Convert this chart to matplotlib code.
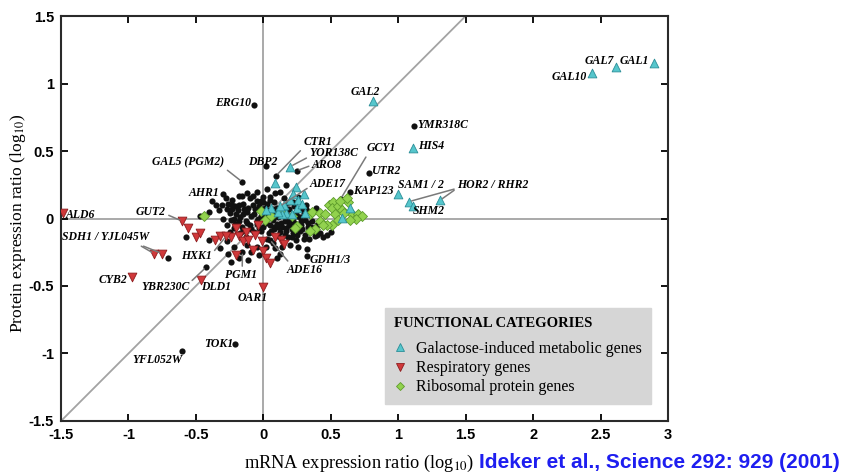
import matplotlib
matplotlib.use("Agg")
from matplotlib import pyplot as plt
from matplotlib.lines import Line2D

plt.rcParams['mathtext.fontset'] = 'stix'
plt.rcParams['axes.unicode_minus'] = False

# ---- data (log10 ratios) ----
# galactose-induced metabolic genes, unlabelled
gal_x = [0.24, 0.30, 0.26, 0.20, 0.085, 0.06, 0.02, 0.17, 0.135, 0.21, 0.25,
         0.22, 0.58, 0.64, 0.29, 0.15, 0.31, 0.11]
gal_y = [0.23, 0.18, 0.14, 0.14, 0.265, 0.075, 0.065, 0.04, 0.03, 0.03, 0.08,
         0.18, 0.005, 0.08, 0.11, 0.10, 0.04, 0.05]

# respiratory genes, unlabelled
resp_x = [-0.56, -0.50, -0.47, -0.36, -0.20, -0.18, -0.15, -0.11, -0.08, -0.01,
          0.00, 0.02, 0.05, -0.20, 0.13, 0.15, -0.13, -0.06, 0.09, -0.24, -0.32, -0.04]
resp_y = [-0.07, -0.14, -0.11, -0.16, -0.07, -0.13, -0.17, -0.16, -0.23, -0.17,
          -0.24, -0.29, -0.33, -0.27, -0.16, -0.19, -0.10, -0.12, -0.14, -0.14, -0.13, -0.05]

# ribosomal protein genes
ribo_x = [-0.44, -0.015, 0.01, 0.06, 0.21, 0.25, 0.345, 0.36, 0.42, 0.49, 0.52, 0.51,
          0.55, 0.58, 0.46, 0.53, 0.63, 0.65, 0.70, 0.73, 0.69, 0.42, 0.51, 0.55, 0.64,
          0.38, 0.345, 0.47, 0.44, 0.60, 0.57, 0.62, 0.13, 0.235]
ribo_y = [0.02, 0.055, -0.01, 0.02, 0.02, -0.055, 0.03, 0.05, 0.04, 0.10, 0.12, 0.08,
          0.09, 0.06, 0.03, 0.03, 0.12, 0.04, 0.03, 0.015, 0.00, -0.02, -0.045, -0.01, -0.01,
          -0.08, -0.095, -0.045, -0.05, 0.04, 0.13, 0.15, 0.05, -0.07]

# other genes, unlabelled
other_x = [-0.57, -0.32, -0.31, -0.18, -0.24, -0.18, -0.11, 0.10, 0.44, 0.40, -0.47, -0.38,
           -0.23, -0.16, -0.23, 0.42, 0.47, 0.17, 0.50, 0.38, -0.71,
           -0.05, 0.03, 0.12, -0.12,
           -0.28, -0.10, 0.00, 0.05, 0.15, 0.26, -0.02,
           -0.35, -0.26, -0.21, -0.15, -0.08, -0.03, 0.03, 0.08, 0.16, 0.22, 0.32, 0.10,
           -0.40, -0.33, -0.25, -0.19, -0.12, -0.06, 0.00, 0.04, 0.09, 0.14, 0.19, 0.24, 0.29, 0.34, 0.39,
           -0.30, -0.24, -0.17, -0.13, -0.09, -0.04, 0.03, 0.07, 0.11, 0.16, 0.20, 0.27, 0.31, 0.36, -0.20,
           -0.27, -0.21, -0.16, -0.10, -0.05, 0.00, 0.05, 0.10, 0.14, 0.19, 0.23, 0.28, 0.33, 0.40,
           -0.25, -0.15, -0.07, -0.02, 0.04, 0.08, 0.12, 0.17, 0.22, 0.27, 0.31, 0.36,
           -0.40, -0.27, -0.13, 0.03, 0.07, 0.18, 0.24, 0.30,
           -0.22, -0.12, -0.05, 0.09, 0.20, 0.26,
           -0.26, 0.12, -0.03,
           -0.07, -0.01, 0.06, 0.12, 0.17, 0.22, 0.25, 0.13, 0.08, 0.02, -0.03, 0.17, 0.21,
           0.26, 0.30, 0.33, -0.11, -0.15, -0.18, -0.22,
           -0.02, 0.01, 0.07, 0.11, 0.15, 0.19, 0.24, 0.28, 0.32, 0.35, -0.05, -0.09,
           -0.14, -0.18, -0.23, -0.27, -0.22, -0.17, 0.06, 0.11, 0.16, 0.21, 0.25, 0.29,
           0.05, -0.08, 0.09, 0.19, 0.23, -0.12, 0.00, -0.05, 0.34, 0.14, -0.09, 0.02]
other_y = [-0.14, -0.22, 0.10, 0.17, -0.32, -0.29, -0.31, -0.29, -0.14, -0.12, 0.02, 0.13,
           0.14, 0.165, 0.07, -0.11, -0.12, 0.245, -0.10, -0.13, -0.29,
           0.20, 0.22, 0.20, 0.19,
           0.15, 0.15, 0.16, 0.14, 0.15, 0.16, 0.13,
           0.10, 0.11, 0.09, 0.11, 0.10, 0.09, 0.11, 0.12, 0.10, 0.12, 0.10, 0.08,
           0.05, 0.06, 0.04, 0.06, 0.05, 0.07, 0.04, 0.06, 0.05, 0.06, 0.07, 0.05, 0.06, 0.05, 0.08,
           0.00, -0.01, 0.01, -0.02, 0.02, 0.00, 0.01, -0.01, 0.01, -0.02, 0.00, 0.01, -0.01, -0.02, 0.03,
           -0.05, -0.04, -0.06, -0.05, -0.04, -0.06, -0.05, -0.04, -0.06, -0.05, -0.03, -0.05, -0.06, -0.05,
           -0.10, -0.09, -0.10, -0.09, -0.11, -0.08, -0.10, -0.09, -0.11, -0.09, -0.12, -0.09,
           -0.16, -0.17, -0.14, -0.15, -0.18, -0.14, -0.16, -0.15,
           -0.21, -0.20, -0.21, -0.22, -0.20, -0.21,
           -0.26, -0.26, -0.27,
           0.03, 0.06, 0.03, 0.03, 0.04, -0.02, 0.02, -0.03, -0.06, -0.03, -0.07, -0.07, -0.08,
           -0.07, 0.03, -0.03, 0.08, 0.03, -0.02, 0.00,
           0.02, 0.08, 0.07, -0.06, 0.02, -0.03, -0.08, -0.02, 0.07, -0.06, -0.02, -0.08,
           0.07, 0.10, 0.10, 0.07, -0.07, -0.11, -0.09, -0.13, -0.12, -0.14, -0.12, -0.08,
           0.16, 0.17, 0.19, 0.12, 0.09, -0.03, 0.12, 0.13, -0.15, -0.21, -0.25, -0.21]

# named genes
named_gene = ['GAL1', 'GAL7', 'GAL10', 'GAL2', 'ERG10', 'YMR318C', 'HIS4', 'UTR2',
              'GCY1', 'KAP123', 'SAM1', 'HOR2', 'RHR2', 'SHM2', 'CTR1', 'YOR138C',
              'ARO8', 'DBP2', 'ADE17', 'GAL5', 'AHR1', 'ALD6', 'GUT2', 'SDH1',
              'YJL045W', 'HXK1', 'CYB2', 'YBR230C', 'DLD1', 'PGM1', 'OAR1', 'ADE16',
              'GDH1', 'GDH3', 'TOK1', 'YFL052W']
named_cat = ['gal', 'gal', 'gal', 'gal', 'other', 'other', 'gal', 'other',
             'other', 'other', 'gal', 'gal', 'gal', 'gal', 'other', 'gal',
             'other', 'other', 'gal', 'other', 'other', 'resp', 'resp', 'resp',
             'resp', 'resp', 'resp', 'other', 'resp', 'other', 'resp', 'other',
             'other', 'other', 'other', 'other']
named_x = [2.895, 2.612, 2.436, 0.815, -0.07, 1.12, 1.11, 0.78,
           0.575, 0.64, 1.002, 1.31, 1.08, 1.11, 0.093, 0.20,
           0.246, 0.023, 0.12, -0.155, -0.30, -1.485, -0.60, -0.81,
           -0.75, -0.275, -0.975, -0.423, -0.46, -0.155, -0.005, 0.048,
           0.325, 0.325, -0.21, -0.60]
named_y = [1.15, 1.125, 1.08, 0.87, 0.84, 0.685, 0.52, 0.335,
           0.148, 0.20, 0.184, 0.135, 0.125, 0.095, 0.316, 0.385,
           0.353, 0.39, 0.09, 0.27, 0.18, 0.04, -0.02, -0.26,
           -0.26, -0.13, -0.43, -0.36, -0.455, -0.245, -0.51, -0.157,
           -0.225, -0.275, -0.93, -0.98]

x_ticks = [-1.5, -1, -0.5, 0, 0.5, 1, 1.5, 2, 2.5, 3]
x_tick_labels = ['-1.5', '-1', '-0.5', '0', '0.5', '1', '1.5', '2', '2.5', '3']
y_ticks = [-1.5, -1, -0.5, 0, 0.5, 1, 1.5]
y_tick_labels = ['-1.5', '-1', '-0.5', '0', '0.5', '1', '1.5']

# label layout: text, x, y, ha, genes joined by a leader line, leader start on text
labels = [
    ('GAL1', 2.86, 1.17, 'right', [], None),
    ('GAL7', 2.60, 1.17, 'right', [], None),
    ('GAL10', 2.40, 1.05, 'right', [], None),
    ('GAL2', 0.755, 0.94, 'center', [], None),
    ('ERG10', -0.09, 0.855, 'right', [], None),
    ('YMR318C', 1.14, 0.69, 'left', [], None),
    ('HIS4', 1.15, 0.54, 'left', [], None),
    ('UTR2', 0.80, 0.353, 'left', [], None),
    ('GCY1', 0.762, 0.52, 'left', ['GCY1'], (0.05, 0.0)),
    ('KAP123', 0.663, 0.204, 'left', [], None),
    ('SAM1 / 2', 1.00, 0.246, 'left', [], None),
    ('HOR2 / RHR2', 1.435, 0.25, 'left', ['HOR2', 'RHR2'], (0.0, 0.2)),
    ('SHM2', 1.11, 0.055, 'left', [], None),
    ('CTR1', 0.295, 0.567, 'left', ['CTR1'], (0.0, 0.0)),
    ('YOR138C', 0.34, 0.485, 'left', ['YOR138C'], (0.0, 0.2)),
    ('ARO8', 0.358, 0.395, 'left', ['ARO8'], (0.0, 0.5)),
    ('DBP2', -0.114, 0.42, 'left', [], None),
    ('ADE17', 0.345, 0.254, 'left', ['ADE17'], (0.0, 0.3)),
    ('GAL5 (PGM2)', -0.287, 0.418, 'right', ['GAL5'], (1.0, 0.0)),
    ('AHR1', -0.325, 0.187, 'right', [], None),
    ('ALD6', -1.465, 0.024, 'left', [], None),
    ('GUT2', -0.944, 0.05, 'left', ['GUT2'], (1.0, 0.3)),
    ('SDH1 / YJL045W', -1.49, -0.14, 'left', ['SDH1', 'YJL045W'], (0.85, 0.0)),
    ('HXK1', -0.61, -0.28, 'left', ['HXK1'], (1.0, 0.7)),
    ('CYB2', -1.007, -0.455, 'right', [], None),
    ('YBR230C', -0.907, -0.505, 'left', ['YBR230C'], (1.0, 0.8)),
    ('DLD1', -0.46, -0.51, 'left', [], None),
    ('PGM1', -0.287, -0.418, 'left', ['PGM1'], (0.55, 1.0)),
    ('OAR1', -0.188, -0.59, 'left', [], None),
    ('ADE16', 0.172, -0.38, 'left', ['ADE16'], (0.1, 1.0)),
    ('GDH1/3', 0.345, -0.306, 'left', [], None),
    ('TOK1', -0.225, -0.933, 'right', [], None),
    ('YFL052W', -0.97, -1.05, 'left', [], None),
]

gal_color, gal_edge = '#56c6cc', '#2b8e98'
resp_color, resp_edge = '#d0383a', '#8e1d1f'
ribo_color, ribo_edge = '#92d24e', '#5e9c2c'
ref_grey = '#a3a3a3'

fig = plt.figure(figsize=(8.45, 4.75), dpi=100)
ax = fig.add_axes([0.0722, 0.1137, 0.7183, 0.8526])

ax.axhline(0, color=ref_grey, lw=1.3, zorder=1)
ax.axvline(0, color=ref_grey, lw=1.3, zorder=1)
ax.axline((0, 0), slope=1, color=ref_grey, lw=1.3, zorder=1)


def pick(cat):
    xs = [x for x, c in zip(named_x, named_cat) if c == cat]
    ys = [y for y, c in zip(named_y, named_cat) if c == cat]
    return xs, ys


nx, ny = pick('other')
ax.scatter(other_x + nx, other_y + ny, s=20, c='#111111', linewidths=0, zorder=3)
ax.scatter(ribo_x, ribo_y, s=26, marker='D', c=ribo_color, edgecolors=ribo_edge,
           linewidths=0.6, zorder=4)
nx, ny = pick('resp')
ax.scatter(resp_x + nx, resp_y + ny, s=40, marker='v', c=resp_color, edgecolors=resp_edge,
           linewidths=0.6, zorder=4)
nx, ny = pick('gal')
ax.scatter(gal_x + nx, gal_y + ny, s=40, marker='^', c=gal_color, edgecolors=gal_edge,
           linewidths=0.6, zorder=5)

lab_font = dict(family='Liberation Serif', weight='bold', style='italic', size=8.5)
for text, tx, ty, ha, genes, rel in labels:
    if not genes:
        ax.text(tx, ty, text, ha=ha, va='center', zorder=6, **lab_font)
        continue
    for k, g in enumerate(genes):
        i = named_gene.index(g)
        ax.annotate(text, xy=(named_x[i], named_y[i]), xytext=(tx, ty),
                    ha=ha, va='center', color='black' if k == 0 else 'none',
                    arrowprops=dict(arrowstyle='-', color='#7a7a7a', lw=1.1,
                                    relpos=rel, shrinkA=0, shrinkB=2),
                    zorder=6, **lab_font)

ax.set_xlim(-1.5, 3)
ax.set_ylim(-1.5, 1.5)
ax.set_xticks(x_ticks)
ax.set_xticklabels(x_tick_labels)
ax.set_yticks(y_ticks)
ax.set_yticklabels(y_tick_labels)
ax.tick_params(direction='in', top=True, right=True, length=5, width=1.3,
               labelsize=10.5, pad=5)
for lab in ax.get_xticklabels() + ax.get_yticklabels():
    lab.set_fontfamily('Liberation Sans')
    lab.set_fontweight('bold')
for sp in ax.spines.values():
    sp.set_linewidth(1.5)
    sp.set_color('#2a2a2a')

ax.set_xlabel('mRNA expression ratio (log$_{10}$)', fontfamily='Liberation Serif',
              fontsize=13.2, va='center')
ax.xaxis.set_label_coords(0.4918, -0.1037)
ax.set_ylabel('Protein expression ratio (log$_{10}$)', fontfamily='Liberation Serif',
              fontsize=12.6, va='center')
ax.yaxis.set_label_coords(-0.071, 0.489)

handles = [
    Line2D([], [], ls='none', marker='^', ms=6, mfc=gal_color, mec=gal_edge, mew=0.6),
    Line2D([], [], ls='none', marker='v', ms=6, mfc=resp_color, mec=resp_edge, mew=0.6),
    Line2D([], [], ls='none', marker='D', ms=4.5, mfc=ribo_color, mec=ribo_edge, mew=0.6),
]
leg = ax.legend(handles, ['Galactose-induced metabolic genes', 'Respiratory genes',
                          'Ribosomal protein genes'],
                title='FUNCTIONAL CATEGORIES', loc='upper left',
                bbox_to_anchor=(0.534, 0.279), frameon=True, fancybox=False,
                facecolor='#d6d6d6', edgecolor='#d6d6d6', framealpha=1,
                prop=dict(family='Liberation Serif', size=11.5),
                title_fontproperties=dict(family='Liberation Serif', weight='bold', size=10.5),
                alignment='left', handlelength=0.8, handletextpad=0.6,
                borderpad=0.55, labelspacing=0.2, borderaxespad=0)
leg._legend_box.sep = 8

fig.text(479 / 845, 12 / 475, 'Ideker et al., Science 292: 929 (2001)',
         color='#1e1ef0', fontfamily='Liberation Sans', fontweight='bold',
         fontsize=15, va='center', ha='left')

fig.savefig('out.png', dpi=100)
